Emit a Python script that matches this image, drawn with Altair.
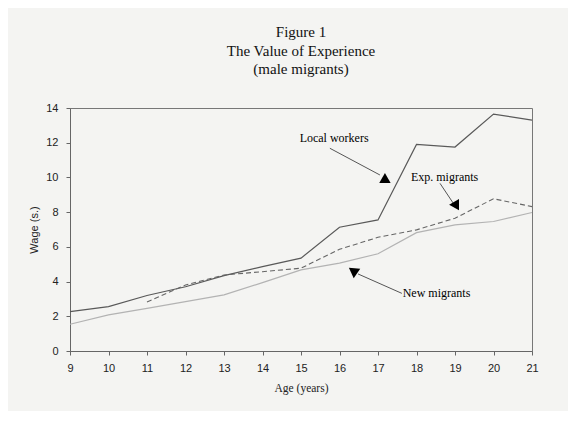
import altair as alt
import pandas as pd

ages = [9, 10, 11, 12, 13, 14, 15, 16, 17, 18, 19, 20, 21]
local_workers = [2.27, 2.56, 3.2, 3.7, 4.34, 4.86, 5.35, 7.13, 7.55, 11.9, 11.75, 13.65, 13.3]
exp_migrants = [None, None, 2.82, 3.8, 4.38, 4.57, 4.77, 5.86, 6.55, 6.98, 7.65, 8.77, 8.32]
new_migrants = [1.54, 2.08, 2.46, 2.84, 3.23, 3.94, 4.67, 5.06, 5.6, 6.82, 7.27, 7.46, 7.98]
wage_ticks = [0, 2, 4, 6, 8, 10, 12, 14]

ann_text = ["Local workers", "Exp. migrants", "New migrants"]
ann_tx = [15.86, 18.73, 18.52]
ann_ty = [12.25, 10.04, 3.36]
arr_x1 = [15.75, 18.61, 17.62]
arr_y1 = [11.68, 9.66, 3.32]
arr_x2 = [17.05, 18.95, 16.48]
arr_y2 = [10.14, 8.53, 4.44]
head_x = [17.18, 19.04, 16.38]
head_y = [9.97, 8.35, 4.48]
head_angle = [0, 150, 185]

df = pd.DataFrame({"age": ages, "local": local_workers, "exp": exp_migrants, "new": new_migrants})
ann = pd.DataFrame({"text": ann_text, "tx": ann_tx, "ty": ann_ty,
                    "x1": arr_x1, "y1": arr_y1, "x2": arr_x2, "y2": arr_y2,
                    "hx": head_x, "hy": head_y, "ang": head_angle})

xs = alt.Scale(domain=[9, 21], nice=False, zero=False)
ys = alt.Scale(domain=[0, 14], nice=False)

xaxis = alt.Axis(values=ages, tickCount=13, title="Age (years)", grid=False, labelFlush=False,
                 labelOverlap=False, tickSize=4, labelPadding=7, titlePadding=9,
                 titleFont="Liberation Serif", titleFontWeight="normal", titleFontSize=11.5)
yaxis = alt.Axis(values=wage_ticks, tickCount=8, title="Wage (s.)", grid=False,
                 labelOverlap=False, labelFlush=False, tickSize=4, labelPadding=8, titlePadding=6,
                 titleFont="Liberation Sans", titleFontWeight="normal", titleFontSize=11)


def X(field):
    return alt.X(field, scale=xs, axis=xaxis)


def Y(field):
    return alt.Y(field, scale=ys, axis=yaxis)


base = alt.Chart(df)

local_line = base.mark_line(color="#595959", strokeWidth=1.2).encode(
    x=X("age:Q"), y=Y("local:Q"))
exp_line = base.transform_filter("isValid(datum.exp)").mark_line(
    color="#666666", strokeWidth=1.1, strokeDash=[5, 3]).encode(
    x=X("age:Q"), y=Y("exp:Q"))
new_line = base.mark_line(color="#b3b3b3", strokeWidth=1.2).encode(
    x=X("age:Q"), y=Y("new:Q"))

ab = alt.Chart(ann)
texts = ab.mark_text(font="Liberation Serif", fontSize=12, fontWeight="normal", color="#000000").encode(
    x=X("tx:Q"), y=Y("ty:Q"), text="text:N")
arrows = ab.mark_rule(color="#555555", strokeWidth=1).encode(
    x=X("x1:Q"), y=Y("y1:Q"), x2="x2:Q", y2="y2:Q")
heads = ab.mark_point(shape="triangle-up", filled=True, size=130, color="#000000", opacity=1).encode(
    x=X("hx:Q"), y=Y("hy:Q"), angle=alt.Angle("ang:Q", scale=None))

chart = alt.layer(local_line, exp_line, new_line, arrows, heads, texts).properties(
    width=462, height=243,
    autosize=alt.AutoSizeParams(type="none"),
    padding={"left": 62, "top": 100, "right": 36, "bottom": 60},
    background="#f4f4f2",
    title=alt.TitleParams(["Figure 1", "The Value of Experience", "(male migrants)"],
                          font="Liberation Serif", fontSize=15, fontWeight="normal",
                          lineHeight=18.5, color="#111111", anchor="middle", offset=25),
).configure_view(stroke="#777777", strokeWidth=1).configure_axis(
    domainColor="#666666", tickColor="#666666", labelFont="Liberation Sans",
    labelFontSize=11, labelColor="#222222", titleColor="#222222")

chart.save("out.html", embed_options={"renderer": "svg", "actions": False})
